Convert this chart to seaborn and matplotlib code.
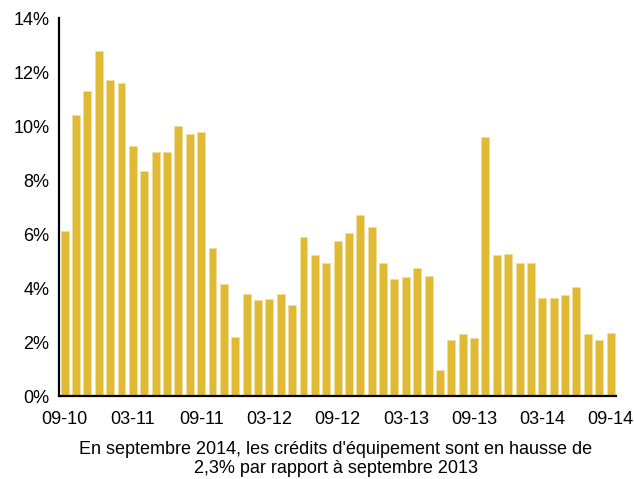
import matplotlib
matplotlib.use("Agg")
import matplotlib.pyplot as plt
import seaborn as sns
import numpy as np
import pandas as pd
from matplotlib.ticker import FixedLocator, PercentFormatter

sns.set_style("white")
plt.rcParams['font.family'] = ['Liberation Sans', 'DejaVu Sans']

months = pd.date_range("2010-09-01", "2014-09-01", freq="MS").strftime("%m-%y").tolist()
values = [6.1, 10.4, 11.3, 12.8, 11.7, 11.6, 9.25, 8.35, 9.05, 9.05, 10.0, 9.7, 9.8,
          5.5, 4.15, 2.2, 3.8, 3.55, 3.6, 3.8, 3.38, 5.88, 5.22, 4.93, 5.75, 6.05,
          6.7, 6.28, 4.93, 4.33, 4.4, 4.75, 4.44, 0.96, 2.07, 2.32, 2.14, 9.6,
          5.22, 5.28, 4.93, 4.93, 3.62, 3.62, 3.74, 4.04, 2.32, 2.07, 2.35]
tick_labels = ["09-10", "03-11", "09-11", "03-12", "09-12", "03-13", "09-13", "03-14", "09-14"]
caption = "En septembre 2014, les crédits d'équipement sont en hausse de\n2,3% par rapport à septembre 2013"

df = pd.DataFrame({"mois": months, "taux": values})

fig = plt.figure(figsize=(6.34, 4.79), dpi=100)
ax = fig.add_axes([0.093, 0.173, 0.879, 0.789])
sns.barplot(data=df, x="mois", y="taux", color="#E0B935", saturation=1,
            width=0.7, edgecolor="#F2DE9C", linewidth=0.6, ax=ax)

n = len(months)
ax.set_xlim(-0.5, n - 0.5)
ax.set_ylim(0, 14)
ax.set_yticks(np.arange(0, 15, 2))
ax.yaxis.set_major_formatter(PercentFormatter(decimals=0))

pos = [months.index(t) for t in tick_labels]
ax.set_xticks(pos)
ax.set_xticklabels(tick_labels)
ax.xaxis.set_minor_locator(FixedLocator(np.arange(-0.5, n, 1.0)))
ax.tick_params(axis="x", which="major", length=0, pad=11, labelsize=13, colors="black")
ax.tick_params(axis="x", which="minor", direction="inout", length=7, width=1.2, color="black")
ax.tick_params(axis="y", which="major", direction="inout", length=7.5, width=1.2,
               labelsize=13, colors="black", pad=3)
ax.set_xlabel("")
ax.set_ylabel("")

for s in ["top", "right"]:
    ax.spines[s].set_visible(False)
for s in ["left", "bottom"]:
    ax.spines[s].set_color("black")
    ax.spines[s].set_linewidth(1.6)

fig.text(0.53, 0.042, caption, ha="center", va="center", fontsize=13,
         linespacing=1.1, color="black")

fig.savefig("out.png", dpi=100)
